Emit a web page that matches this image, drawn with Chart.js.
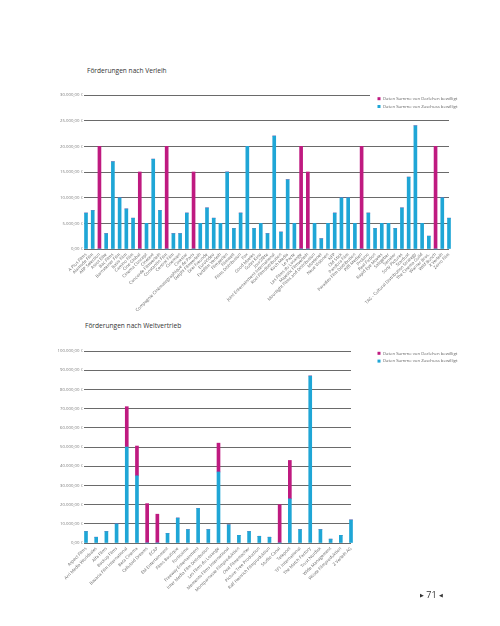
<!DOCTYPE html>
<html>
<head>
<meta charset="utf-8">
<script src="https://cdn.jsdelivr.net/npm/chart.js@4"></script>
<style>
  body { margin: 0; width: 500px; height: 626px; background: #fff; position: relative; overflow: hidden; font-family: "Open Sans", sans-serif; }
  .box { position: absolute; left: 0; width: 500px; }
  .titel { position: absolute; font-size: 6.6px; color: #333; white-space: nowrap; }
  #seite { position: absolute; left: 420px; top: 588px; font-size: 9px; color: #333; white-space: nowrap; }
  #seite span { font-size: 5px; vertical-align: 1px; }
</style>
</head>
<body>
<div class="titel" style="left:87px;top:66px">Förderungen nach Verleih</div>
<div class="box" style="top:60px;height:255px"><canvas id="verleih"></canvas></div>
<div class="titel" style="left:85px;top:321px">Förderungen nach Weltvertrieb</div>
<div class="box" style="top:315px;height:285px"><canvas id="weltvertrieb"></canvas></div>
<div id="seite"><span>▶</span> 71 <span>◀</span></div>
<script>
// Daten: Förderungen nach Verleih
const verleihNamen = [
  "A Plus Films", "Alamode Film", "ARP Selection", "Ascot Elite", "Bac Films", "Barnsteiner Film",
  "Basis Film", "Camino Film", "Cine Global", "Cinema Concept", "Cinetext", "Concorde Filmverleih",
  "Constantin Film", "Central Film", "Cinemien", "Cinestar", "Compagnie Cinématographique de Paris",
  "Delphi Filmverleih", "Drei Freunde", "EuroVideo", "Farbfilm Verleih", "Filmperlen", "Filmwelt",
  "Films Distribution", "Fox", "Good Movies", "Gutes Kino", "Jour2fête", "Joint Entertainment International",
  "Kool Filmdistribution", "Koch Media", "Le Pacte", "Les Films du Losange", "Majestic Filmverleih",
  "Moonlight Films and Distribution", "Movienet", "Neue Visionen", "NFP", "Old Stick", "Pandora Film",
  "Paradies Film Distribution", "Piffl Medien", "Prokino", "Real Fiction", "Rapid Eye Movies", "Salzgeber",
  "Senator", "Sony Pictures", "Stardust", "TAG - Cultural Distribution Strategy", "The Cinema Guild",
  "Warner Bros.", "Wild Bunch", "X Verleih", "Zorro Film"
];
const verleihZuschuss = [
  7000, 7500, 0, 3000, 17000, 10000, 7800, 6000, 0, 5000, 17500, 7500, 0, 3000, 3000, 7000, 0,
  5000, 8000, 6000, 5000, 15000, 4000, 7000, 20000, 4000, 5000, 3000, 22000, 3300, 13500, 5000,
  0, 0, 5000, 2000, 5000, 7000, 10000, 10000, 5000, 0, 7000, 4000, 5000, 5000, 4000, 8000,
  14000, 24000, 5000, 2500, 0, 10000, 6000
];
const verleihDarlehen = [
  0, 0, 20000, 0, 0, 0, 0, 0, 15000, 0, 0, 0, 20000, 0, 0, 0, 15000,
  0, 0, 0, 0, 0, 0, 0, 0, 0, 0, 0, 0, 0, 0, 0,
  20000, 15000, 0, 0, 0, 0, 0, 0, 0, 20000, 0, 0, 0, 0, 0, 0,
  0, 0, 0, 0, 20000, 0, 0
];

// Daten: Förderungen nach Weltvertrieb
const weltNamen = [
  "Aspect Films", "Arri Media Worldsales", "Alfa Films", "Backup Films", "Bavaria Film International",
  "Beta Cinema", "Celluloid Dreams", "ECAP", "EM Entertainment", "Films Boutique", "Fortissimo",
  "Freeway Entertainment", "Inter Media Film Distribution", "Les Films du Losange",
  "Memento Films International", "Montparnasse Filmproduktion", "Oval Filmemacher",
  "Picture Tree Production", "Ralf Heinrich Filmproduktion", "Studio Canal", "Telepool",
  "TF1 International", "The Match Factory", "Trust Nordisk", "Wide Management",
  "Wüste Filmproduktion", "Z Verleih AG"
];
const weltZuschuss = [
  6000, 3000, 6000, 10000, 50000, 35000, 0, 0, 5000, 13000, 7000, 18000, 7000, 37000,
  9500, 4000, 6000, 3500, 3000, 0, 23000, 7000, 87000, 7000, 2000, 4000, 12000
];
const weltDarlehen = [
  0, 0, 0, 0, 21000, 15500, 20500, 15000, 0, 0, 0, 0, 0, 15000,
  0, 0, 0, 0, 0, 20000, 20000, 0, 0, 0, 0, 0, 0
];

const labelDarlehen = "Daten Summe von Darlehen bewilligt";
const labelZuschuss = "Daten Summe von Zuschuss bewilligt";
const farbeDarlehen = "#bf1a80";
const farbeZuschuss = "#1fa6d6";

Chart.defaults.font.family = '"Open Sans", sans-serif';

// Zahl im Stil 30.000,00 €
function euro(v) {
  const s = String(Math.round(v)).replace(/\B(?=(\d{3})+(?!\d))/g, ".");
  return s + ",00 €";
}

// Legende selber zeichnen (kleine Quadrate rechts oben)
const legendePlugin = {
  id: "legende",
  afterDraw(chart, args, opts) {
    const ctx = chart.ctx;
    ctx.save();
    if (opts.abdecken) {
      ctx.fillStyle = "#fff";
      ctx.fillRect(opts.x - 9, opts.y - 6, 90, 20);
    }
    const ds = chart.data.datasets.slice().reverse();
    ds.forEach((d, i) => {
      const y = opts.y + i * 7.8;
      ctx.fillStyle = d.backgroundColor;
      ctx.fillRect(opts.x - 1.5, y - 1.5, 3, 3);
      ctx.fillStyle = "#666";
      ctx.font = '4.3px "Open Sans"';
      ctx.textBaseline = "middle";
      ctx.fillText(d.label, opts.x + 4, y);
    });
    ctx.restore();
  }
};

function baueChart(id, namen, zuschuss, darlehen, cfg) {
  return new Chart(document.getElementById(id), {
    type: "bar",
    data: {
      labels: namen,
      datasets: [
        { label: labelZuschuss, data: zuschuss, backgroundColor: farbeZuschuss, barThickness: 3, clip: false },
        { label: labelDarlehen, data: darlehen, backgroundColor: farbeDarlehen, barThickness: 3, clip: false },
      ],
    },
    plugins: [legendePlugin],
    options: {
      responsive: true,
      maintainAspectRatio: false,
      animation: false,
      layout: { padding: { top: cfg.oben, right: cfg.rechts, left: 0, bottom: 0 } },
      plugins: {
        legend: { display: false },
        tooltip: { enabled: false },
        legende: { x: 379, y: cfg.legY, abdecken: cfg.abdecken },
      },
      scales: {
        x: {
          stacked: true,
          offset: false,
          grid: { display: false, drawTicks: false },
          border: { display: false },
          ticks: {
            autoSkip: false,
            maxRotation: 45,
            minRotation: 45,
            padding: 3,
            color: "#666",
            font: { size: 4.3 },
          },
          afterFit: (s) => { s.height = cfg.xHoehe; },
        },
        y: {
          stacked: true,
          min: 0,
          max: cfg.max,
          grid: { color: "#6a6a6a", tickLength: 2 },
          border: { display: false },
          ticks: {
            stepSize: cfg.schritt,
            padding: 1,
            color: "#777",
            font: { size: 4.3 },
            callback: (v) => euro(v),
          },
          afterFit: (s) => { s.width = 86; },
        },
      },
    },
  });
}

baueChart("verleih", verleihNamen, verleihZuschuss, verleihDarlehen,
  { oben: 35, rechts: 51, xHoehe: 66, max: 30000, schritt: 5000, legY: 38.7, abdecken: true });
baueChart("weltvertrieb", weltNamen, weltZuschuss, weltDarlehen,
  { oben: 36, rechts: 149, xHoehe: 57, max: 100000, schritt: 10000, legY: 38.3, abdecken: false });
</script>
</body>
</html>
